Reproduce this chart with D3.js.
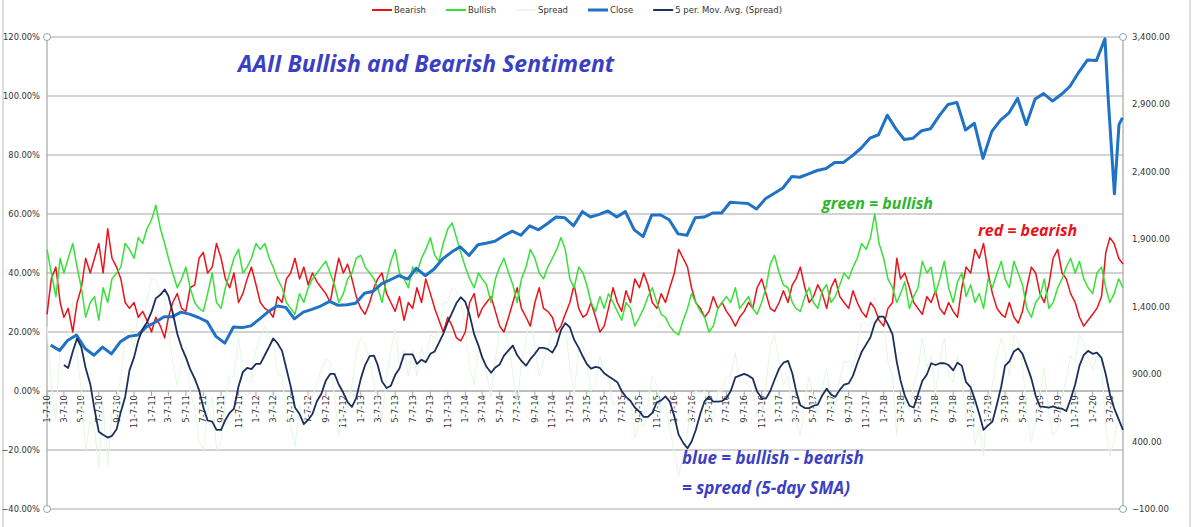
<!DOCTYPE html>
<html><head><meta charset="utf-8">
<script src="https://cdn.jsdelivr.net/npm/d3@7"></script>
<style>body{margin:0;background:#fff}svg{display:block;font-family:"DejaVu Sans",sans-serif}</style>
</head><body><svg id="c" width="1200" height="527"></svg>
<script>
const bearish=[26,38,42,30,25,28,20,30,35,45,40,45,50,40,55,45,42,38,30,28,30,25,27,24,
20,25,22,18,25,30,33,28,27,35,36,45,47,40,42,50,45,38,35,40,30,33,38,42,
36,30,28,27,25,32,30,38,40,45,38,42,36,40,37,35,33,30,38,45,40,43,38,32,
28,26,30,35,38,40,33,30,27,32,24,30,28,35,30,38,33,28,24,20,25,22,18,17,
20,30,33,25,28,30,32,27,22,20,25,30,35,28,25,22,30,35,28,27,25,20,22,26,
30,36,28,25,26,30,25,20,22,28,35,30,27,34,30,38,35,40,36,30,28,33,30,35,
40,48,45,42,35,30,28,25,27,32,28,30,27,25,22,25,27,30,28,35,38,33,28,27,
30,34,30,36,38,42,35,30,32,36,33,28,35,38,32,30,28,34,30,27,25,30,28,24,
22,28,30,45,38,40,35,30,28,26,32,30,34,28,26,30,27,25,35,42,40,48,45,50,
40,33,28,26,25,30,25,23,27,35,42,40,33,30,36,45,48,40,38,33,30,25,22,24,
26,28,32,47,52,50,45,43];
const bullish=[48,40,32,45,40,45,50,42,35,25,30,32,24,35,30,38,40,42,50,48,45,52,50,55,
58,63,55,50,45,40,35,38,42,35,30,28,27,33,40,30,28,35,40,45,48,40,42,45,
50,48,50,45,42,38,35,30,28,26,33,30,35,38,40,42,44,40,36,30,33,38,40,45,
46,42,40,38,35,30,38,44,48,40,38,35,42,40,45,48,52,46,44,50,55,57,52,47,
42,38,35,40,38,36,30,38,42,45,40,36,30,38,42,48,45,40,38,42,45,48,52,48,
38,35,42,40,36,30,27,32,28,33,30,27,24,30,28,22,25,28,32,35,30,26,25,22,
20,19,24,28,33,30,27,25,20,22,28,30,32,30,35,28,30,32,28,26,30,35,43,46,
40,36,35,30,28,27,32,35,30,28,34,36,30,32,36,40,38,42,45,50,48,52,60,50,
45,38,35,30,33,37,28,32,35,44,40,42,33,38,44,35,30,37,40,32,36,30,33,28,
38,35,40,44,38,35,44,40,36,28,25,30,32,38,28,30,35,38,42,45,40,44,38,35,
33,40,42,35,30,33,38,35];
const closeMonthly=[1115,1075,1150,1190,1090,1040,1100,1050,1140,1180,1190,1250,
1285,1325,1325,1360,1345,1320,1290,1180,1130,1250,1245,1258,
1310,1365,1405,1395,1310,1360,1380,1405,1440,1410,1415,1425,
1500,1515,1570,1600,1630,1605,1685,1630,1680,1755,1805,1845,
1780,1860,1870,1885,1925,1960,1930,2000,1970,2015,2065,2060,
2000,2105,2065,2085,2110,2065,2105,1970,1920,2080,2080,2045,
1940,1930,2060,2065,2095,2095,2175,2170,2165,2125,2200,2240,
2280,2365,2360,2385,2410,2425,2470,2470,2520,2575,2650,2675,
2820,2715,2640,2650,2705,2720,2815,2900,2915,2710,2760,2500,
2700,2785,2835,2945,2750,2940,2980,2925,2975,3035,3140,3230,3225];
const closeTailDates=["2020-02-19","2020-03-01","2020-03-23","2020-04-08","2020-04-20"];
const closeTail=[3386,2955,2237,2750,2800];
const leftTicks=[-0.4,-0.2,0,0.2,0.4,0.6,0.8,1.0,1.2];
const rightTicks=[-100,400,900,1400,1900,2400,2900,3400];

const svg=d3.select("#c");
const L=47,R=1123,T=37,B=509;
const x=d3.scaleTime().domain([new Date(2010,0,7),new Date(2020,3,22)]).range([L,R]);
const y=d3.scaleLinear().domain([-0.4,1.2]).range([B,T]);
const y2=d3.scaleLinear().domain([-100,3400]).range([B,T]);
const sDates=bearish.map((_,i)=>new Date(2010,Math.floor(i/2),i%2?22:7));
const spread=bullish.map((v,i)=>(v-bearish[i])/100);
const ma=spread.map((v,i)=>i<4?null:d3.mean(spread.slice(i-4,i+1)));

svg.append("line").attr("x1",3).attr("x2",3).attr("y1",0).attr("y2",527).attr("stroke","#bbb");
svg.append("line").attr("x1",1190).attr("x2",1190).attr("y1",0).attr("y2",527).attr("stroke","#bbb");

svg.append("g").selectAll("line").data(leftTicks).join("line")
 .attr("x1",L).attr("x2",R).attr("y1",d=>y(d)).attr("y2",d=>y(d)).attr("stroke","#a6a6a6").attr("stroke-width",1.2);
svg.append("line").attr("x1",L).attr("x2",L).attr("y1",T).attr("y2",B).attr("stroke","#a6a6a6").attr("stroke-width",1.2);
svg.append("line").attr("x1",R).attr("x2",R).attr("y1",T).attr("y2",B).attr("stroke","#a6a6a6").attr("stroke-width",1.2);
svg.append("g").selectAll("text").data(leftTicks).join("text")
 .attr("x",L-7).attr("y",d=>y(d)+3).attr("text-anchor","end").attr("font-size",8.3).attr("fill","#333")
 .text(d=>d3.format(".2f")(d*100)+"%");
svg.append("g").selectAll("text").data(rightTicks).join("text")
 .attr("x",R+9).attr("y",d=>y2(d)+3).attr("font-size",8.5).attr("fill","#333")
 .text(d=>d3.format(",.2f")(d));

const xt=d3.timeMonth.range(new Date(2010,0,1),new Date(2020,4,1),2).map(d=>new Date(d.getFullYear(),d.getMonth(),7));
svg.append("line").attr("x1",L).attr("x2",R).attr("y1",y(0)).attr("y2",y(0)).attr("stroke","#a6a6a6");
const xg=svg.append("g").selectAll("g").data(xt).join("g").attr("transform",d=>`translate(${x(d)},${y(0)})`);
xg.append("line").attr("y2",5).attr("stroke","#a6a6a6");
xg.append("text").attr("transform","rotate(-90)").attr("x",-4).attr("y",3).attr("text-anchor","end")
 .attr("font-size",8.5).attr("fill","#333").text(d=>`${d.getMonth()+1}-7-${String(d.getFullYear()).slice(2)}`);

const line=d3.line().defined(d=>d[1]!=null).x(d=>x(d[0])).y(d=>y(d[1]));
const add=(data,col,w)=>svg.append("path").datum(data).attr("d",line).attr("fill","none").attr("stroke",col).attr("stroke-width",w).attr("stroke-linejoin","round");
add(sDates.map((d,i)=>[d,spread[i]]),"#e4f7e4",1);
add(sDates.map((d,i)=>[d,bearish[i]/100]),"#e8141a",1.5);
add(sDates.map((d,i)=>[d,bullish[i]/100]),"#39e039",1.5);
const cPts=closeMonthly.map((v,i)=>[new Date(2010,i,20),v]).concat(closeTail.map((v,i)=>[new Date(closeTailDates[i]),v]));
svg.append("path").datum(cPts).attr("d",d3.line().x(d=>x(d[0])).y(d=>y2(d[1]))).attr("fill","none").attr("stroke","#1f72c4").attr("stroke-width",3).attr("stroke-linejoin","round");
add(sDates.map((d,i)=>[d,ma[i]]),"#1c2f5c",1.8);

[[L,T],[R,T],[L,B],[R,B]].forEach(p=>svg.append("circle").attr("cx",p[0]).attr("cy",p[1]).attr("r",3.5).attr("fill","#fff").attr("stroke","#8aa"));

const leg=[["Bearish","#e8141a",2],["Bullish","#39e039",2],["Spread","#d6f5d6",1],["Close","#1f72c4",3],["5 per. Mov. Avg. (Spread)","#1c2f5c",2]];
let lx=372;
leg.forEach(l=>{svg.append("line").attr("x1",lx).attr("x2",lx+20).attr("y1",10).attr("y2",10).attr("stroke",l[1]).attr("stroke-width",l[2]);
 const t=svg.append("text").attr("x",lx+22).attr("y",13).attr("font-size",8.5).attr("fill","#333").text(l[0]);
 lx+=22+t.node().getComputedTextLength()+20;});

const ann=(t,xx,yy,c,s)=>svg.append("text").attr("x",xx).attr("y",yy).attr("fill",c).attr("font-size",s).attr("font-weight","bold").attr("font-style","italic").attr("font-family","Open Sans, sans-serif").text(t);
ann("AAII Bullish and Bearish Sentiment",238,72,"#3b3fc4",23);
ann("green = bullish",822,209,"#2db52d",16);
ann("red = bearish",978,236,"#e8141a",16);
ann("blue = bullish - bearish",682,464,"#3b3fc4",17);
ann("= spread (5-day SMA)",682,494,"#3b3fc4",17);
</script></body></html>
